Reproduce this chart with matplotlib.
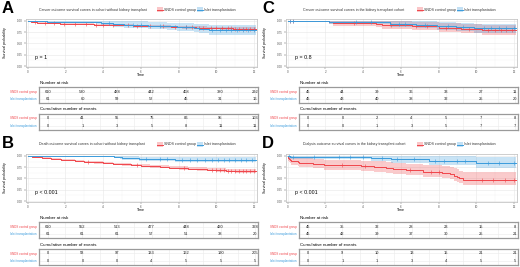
import numpy as np
import matplotlib
matplotlib.use("Agg")
import matplotlib.pyplot as plt
from matplotlib.patches import Rectangle

plt.rcParams['font.family'] = ['Liberation Sans', 'DejaVu Sans']

W, H = 520, 267
RED = '#F0454B'
BLUE = '#3A9BDC'

times = [0, 2, 4, 6, 8, 10, 12]
groups = ['SNDS control group', 'Islet transplantation']

# ---- panel A: cancer, cohort without kidney transplant
a_title = 'Cancer outcome survival curves in cohort without kidney transplant'
a_pval = 'p = 1'
a_ctrl_t = [0, 0.05, 0.15, 0.3, 0.5, 0.8, 1.2, 1.7, 2.2, 2.8, 3.5, 4.2, 5.0, 5.6, 6.3, 7.0, 7.6, 8.2, 8.9, 9.5, 10.2, 10.9, 11.5, 12.1]
a_ctrl_s = [1.0, 0.99, 0.98, 0.972, 0.965, 0.958, 0.951, 0.943, 0.934, 0.927, 0.919, 0.911, 0.902, 0.894, 0.887, 0.878, 0.870, 0.862, 0.854, 0.846, 0.838, 0.830, 0.822, 0.822]
a_ctrl_lo = [1.0, 0.982, 0.969, 0.959, 0.950, 0.941, 0.933, 0.924, 0.914, 0.906, 0.897, 0.888, 0.878, 0.869, 0.861, 0.851, 0.842, 0.833, 0.824, 0.815, 0.806, 0.797, 0.788, 0.788]
a_ctrl_hi = [1.0, 0.998, 0.991, 0.985, 0.980, 0.975, 0.969, 0.962, 0.954, 0.948, 0.941, 0.934, 0.926, 0.919, 0.913, 0.905, 0.898, 0.891, 0.884, 0.877, 0.870, 0.863, 0.856, 0.856]
a_ctrl_cens = [0.4, 0.9, 1.4, 1.9, 2.5, 3.1, 3.6, 4.0, 4.5, 5.3, 5.8, 6.5, 7.2, 7.8, 8.4, 8.7, 9.1, 9.3, 9.7, 10.0, 10.3, 10.6, 10.8, 11.0, 11.2, 11.4, 11.6, 11.8, 12.0]
a_islet_t = [0, 1.0, 3.6, 3.9, 4.5, 5.1, 6.4, 7.4, 7.9, 8.8, 9.1, 9.6, 12.1]
a_islet_s = [1.0, 0.984, 0.968, 0.952, 0.935, 0.918, 0.899, 0.879, 0.858, 0.838, 0.818, 0.797, 0.797]
a_islet_lo = [1.0, 0.953, 0.925, 0.900, 0.876, 0.852, 0.827, 0.801, 0.775, 0.749, 0.724, 0.698, 0.698]
a_islet_hi = [1.0, 1.0, 1.0, 1.0, 0.998, 0.989, 0.977, 0.964, 0.951, 0.937, 0.924, 0.910, 0.910]
a_islet_cens = [4.3, 5.6, 6.0, 7.0, 8.4, 9.8, 10.2, 10.5, 10.8, 11.1, 11.4, 11.7, 12.0]
a_risk = [[610, 530, 488, 442, 408, 380, 292], [61, 60, 59, 52, 45, 31, 16]]
a_events = [[0, 41, 55, 75, 86, 95, 103], [0, 1, 3, 5, 8, 11, 11]]

# ---- panel B: death, cohort without kidney transplant
b_title = 'Death outcome survival curves in cohort without kidney transplant'
b_pval = 'p < 0.001'
b_ctrl_t = [0, .25, .5, .75, 1, 1.25, 1.5, 1.75, 2, 2.5, 3, 3.5, 4, 4.5, 5, 5.5, 6, 6.5, 7, 7.5, 8, 8.5, 9, 9.5, 10, 10.5, 11, 11.5, 12.1]
b_ctrl_s = [1, .988, .976, .965, .953, .941, .930, .918, .905, .889, .873, .857, .842, .827, .812, .797, .782, .770, .757, .744, .732, .720, .708, .696, .685, .676, .667, .660, .660]
b_ctrl_lo = [1, .979, .964, .950, .936, .922, .909, .896, .882, .865, .848, .831, .815, .799, .783, .767, .751, .738, .724, .710, .697, .684, .671, .658, .646, .636, .626, .618, .618]
b_ctrl_hi = [1, .997, .988, .980, .970, .960, .951, .941, .929, .914, .899, .884, .869, .855, .841, .827, .813, .802, .790, .778, .767, .756, .745, .734, .724, .716, .708, .702, .702]
b_ctrl_cens = [3.2, 5.8, 8.3, 9.8, 10.0, 10.2, 10.4, 10.6, 10.8, 11.0, 11.2, 11.4, 11.6, 11.8, 12.0]
b_islet_t = [0, 4.6, 4.9, 5.0, 5.9, 7.8, 12.1]
b_islet_s = [1.0, 0.984, 0.967, 0.951, 0.934, 0.914, 0.914]
b_islet_lo = [1.0, 0.955, 0.930, 0.908, 0.886, 0.860, 0.860]
b_islet_hi = [1.0, 1.0, 1.0, 0.995, 0.984, 0.970, 0.970]
b_islet_cens = [6.3, 7.0, 7.4, 8.2, 8.6, 9.0, 9.4, 9.8, 10.1, 10.4, 10.7, 11.0, 11.3, 11.6, 11.9]
b_risk = [[610, 552, 513, 477, 448, 420, 328], [61, 61, 61, 57, 51, 38, 20]]
b_events = [[0, 58, 97, 133, 162, 190, 205], [0, 0, 0, 4, 5, 5, 5]]

# ---- panel C: cancer, kidney transplant cohort
c_title = 'Cancer outcome survival curves in the kidney transplant cohort'
c_pval = 'p = 0.8'
c_ctrl_t = [0, 2.2, 2.4, 4.7, 5.0, 6.6, 8.0, 9.2, 10.3, 12.1]
c_ctrl_s = [1.0, .978, .956, .931, .907, .881, .854, .826, .793, .793]
c_ctrl_lo = [1.0, .936, .898, .860, .826, .793, .761, .728, .688, .688]
c_ctrl_hi = [1.0, 1.0, 1.0, 1.0, .995, .979, .958, .937, .914, .914]
c_ctrl_cens = [0.1, 0.3, 3.5, 5.5, 6.8, 7.4, 8.4, 8.9, 9.6, 10.6, 11.0, 11.3, 11.6, 11.9]
c_islet_t = [0, 2.2, 5.4, 5.45, 6.8, 7.9, 8.9, 9.9, 12.1]
c_islet_s = [1.0, .978, .956, .934, .911, .887, .862, .834, .834]
c_islet_lo = [1.0, .936, .898, .866, .835, .804, .773, .739, .739]
c_islet_hi = [1.0, 1.0, 1.0, 1.0, .994, .978, .961, .941, .941]
c_islet_cens = [0.1, 0.3, 3.6, 4.4, 5.9, 6.2, 7.3, 8.5, 9.3, 10.4, 10.8, 11.2, 11.6, 12.0]
c_risk = [[45, 44, 39, 36, 33, 27, 11], [45, 43, 40, 38, 32, 25, 20]]
c_events = [[0, 0, 2, 4, 5, 7, 8], [0, 0, 1, 3, 5, 7, 7]]

# ---- panel D: dialysis, kidney transplant cohort
d_title = 'Dialysis outcome survival curves in the kidney transplant cohort'
d_pval = 'p < 0.001'
d_ctrl_t = [0, 0.02, 0.04, 0.06, 0.12, 0.15, 0.55, 0.6, 1.35, 1.95, 3.9, 4.6, 5.2, 5.6, 6.3, 7.2, 8.2, 8.6, 8.8, 9.0, 9.1, 9.3, 12.1]
d_ctrl_s = [1.0, .978, .956, .933, .911, .889, .867, .844, .822, .800, .778, .755, .731, .707, .681, .654, .624, .594, .565, .535, .505, .475, .475]
d_ctrl_lo = [1.0, .936, .898, .864, .834, .806, .778, .751, .725, .699, .675, .650, .624, .598, .571, .542, .510, .479, .449, .419, .389, .345, .345]
d_ctrl_hi = [1.0, 1.0, 1.0, 1.0, .995, .980, .965, .949, .933, .916, .899, .881, .862, .843, .822, .801, .777, .753, .728, .703, .677, .640, .640]
d_ctrl_cens = [2.9, 4.1, 6.5, 7.6, 8.0, 10.3, 10.9, 11.5, 12.0]
d_islet_t = [0, 0.1, 4.4, 5.5, 7.5, 10.0, 12.1]
d_islet_s = [1.0, .978, .951, .924, .893, .853, .853]
d_islet_lo = [1.0, .936, .888, .845, .800, .744, .744]
d_islet_hi = [1.0, 1.0, 1.0, 1.0, .997, .977, .977]
d_islet_cens = [0.05, 0.3, 1.4, 2.7, 3.3, 4.0, 5.0, 5.8, 6.7, 7.8, 8.3, 9.0, 9.4, 10.6, 11.2, 12.0]
d_risk = [[45, 35, 32, 28, 23, 15, 8], [45, 42, 39, 37, 30, 25, 21]]
d_events = [[0, 9, 10, 13, 15, 21, 21], [0, 1, 1, 3, 4, 5, 5]]


fig = plt.figure(figsize=(W / 100, H / 100), dpi=100)
ov = fig.add_axes([0, 0, 1, 1])
ov.set_xlim(0, W)
ov.set_ylim(H, 0)
ov.axis('off')


def pax(x, y, w, h):
    return fig.add_axes([x / W, 1 - (y + h) / H, w / W, h / H])


def draw_curve(ax, t, s, lo, hi, cens, color):
    ax.fill_between(t, lo, hi, step='post', color=color, alpha=0.28, lw=0)
    ax.step(t, s, where='post', color=color, lw=0.7)
    idx = np.searchsorted(t, cens, side='right') - 1
    ax.plot(cens, np.array(s)[idx], '+', color=color, ms=2.2, mew=0.4)


def draw_table(x, y, h, rows):
    tb = pax(x + 39, y, 219, h)
    tb.set_xlim(-0.52, 12.17)
    tb.set_ylim(-0.6, 1.6)
    tb.set_xticks(times)
    tb.set_xticks([1, 3, 5, 7, 9, 11], minor=True)
    tb.set_yticks([0, 1])
    tb.grid(True, which='both', color='#EBEBEB', lw=0.4)
    tb.tick_params(which='both', length=0, labelbottom=False, labelleft=False)
    for sp in tb.spines.values():
        sp.set_color('#9A9A9A')
        sp.set_linewidth(0.9)
    for r, vals in enumerate(rows):
        for tt, v in zip(times, vals):
            tb.text(tt, 1 - r, str(v), ha='center', va='center', fontsize=2.9, color='#222222')


def draw_panel(ox, oy, letter, title, tx, pval, curves, risk, events):
    ov.text(ox + 2, oy + 1, letter, fontsize=12, fontweight='bold', va='top', ha='left')
    ov.text(tx, oy + 9.5, title, fontsize=2.6, va='center', ha='left', color='#333333')
    lx = ox + 157
    for i, (g, c) in enumerate(zip(groups, [RED, BLUE])):
        bx = lx + i * 40
        ov.add_patch(Rectangle((bx, oy + 7), 6, 5, facecolor=c, alpha=0.3, lw=0))
        ov.plot([bx, bx + 6], [oy + 9.5, oy + 9.5], color=c, lw=0.7)
        ov.text(bx + 7, oy + 9.5, g, fontsize=2.6, va='center', ha='left', color='#333333')

    ax = pax(ox + 26, oy + 19, 231, 48)
    for cv in curves:
        draw_curve(ax, *cv)
    ax.set_xlim(-0.09, 12.16)
    ax.set_ylim(-0.022, 1.044)
    ax.set_xticks(times)
    ax.set_xticks([1, 3, 5, 7, 9, 11], minor=True)
    ax.set_yticks([0, 0.25, 0.5, 0.75, 1.0])
    ax.set_yticks([0.125, 0.375, 0.625, 0.875], minor=True)
    ax.set_yticklabels(['0.00', '0.25', '0.50', '0.75', '1.00'])
    ax.grid(True, which='major', color='#E6E6E6', lw=0.4)
    ax.grid(True, which='minor', color='#F2F2F2', lw=0.3)
    ax.set_axisbelow(True)
    ax.tick_params(which='major', labelsize=2.2, length=1.5, width=0.3, pad=1, colors='#555555')
    ax.tick_params(which='minor', length=0)
    for sp in ax.spines.values():
        sp.set_color('#BBBBBB')
        sp.set_linewidth(0.5)
    ax.text(0.4, 0.2, pval, fontsize=3.8, va='center', ha='left')

    ov.text(ox + 5, oy + 43, 'Survival probability', rotation=90, fontsize=2.6, va='center', ha='center')
    ov.text(ox + 141, oy + 75, 'Time', fontsize=2.6, va='center', ha='center')

    ov.text(ox + 40, oy + 83, 'Number at risk', fontsize=3.2, va='center', ha='left')
    draw_table(ox, oy + 87.3, 16, risk)
    ov.text(ox + 40, oy + 109.5, 'Cumulative number of events', fontsize=3.2, va='center', ha='left')
    draw_table(ox, oy + 114, 16, events)
    for r, (g, c) in enumerate(zip(groups, [RED, BLUE])):
        ov.text(ox + 37, oy + 91.7 + 7.3 * r, g, fontsize=2.2, va='center', ha='right', color=c)
        ov.text(ox + 37, oy + 118.5 + 7.3 * r, g, fontsize=2.2, va='center', ha='right', color=c)


draw_panel(0, 0, 'A', a_title, 39, a_pval,
           [(a_ctrl_t, a_ctrl_s, a_ctrl_lo, a_ctrl_hi, a_ctrl_cens, RED),
            (a_islet_t, a_islet_s, a_islet_lo, a_islet_hi, a_islet_cens, BLUE)],
           a_risk, a_events)
draw_panel(0, 135, 'B', b_title, 39, b_pval,
           [(b_ctrl_t, b_ctrl_s, b_ctrl_lo, b_ctrl_hi, b_ctrl_cens, RED),
            (b_islet_t, b_islet_s, b_islet_lo, b_islet_hi, b_islet_cens, BLUE)],
           b_risk, b_events)
draw_panel(260, 0, 'C', c_title, 303, c_pval,
           [(c_ctrl_t, c_ctrl_s, c_ctrl_lo, c_ctrl_hi, c_ctrl_cens, RED),
            (c_islet_t, c_islet_s, c_islet_lo, c_islet_hi, c_islet_cens, BLUE)],
           c_risk, c_events)
draw_panel(260, 135, 'D', d_title, 303, d_pval,
           [(d_ctrl_t, d_ctrl_s, d_ctrl_lo, d_ctrl_hi, d_ctrl_cens, RED),
            (d_islet_t, d_islet_s, d_islet_lo, d_islet_hi, d_islet_cens, BLUE)],
           d_risk, d_events)

fig.savefig('out.png', dpi=100)
